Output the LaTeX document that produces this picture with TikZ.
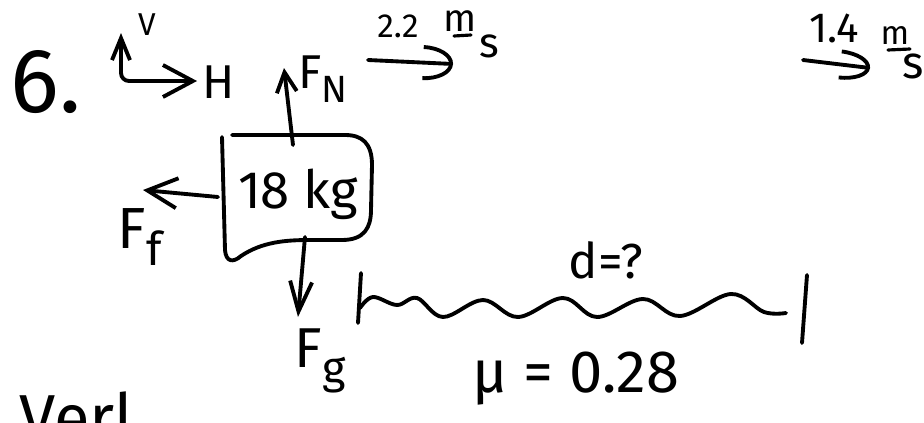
\documentclass[tikz,border=0pt]{standalone}
\usepackage{fontspec}
\setmainfont{Fira Sans}
\usetikzlibrary{arrows.meta}
\newcommand{\hand}[1]{\fontsize{#1}{#1}\selectfont}
\newcommand{\lowsub}[1]{\raisebox{-0.3em}{\scalebox{0.8}{#1}}}

\begin{document}
\begin{tikzpicture}[x=0.02cm,y=-0.02cm,line width=2.2pt,line cap=round,line join=round,
  lbl/.style={inner sep=0pt,anchor=base}]
\useasboundingbox (0,0) rectangle (924,423);
\clip (0,0) rectangle (924,423);
% ---------- 题号与方向 ----------
\node[lbl,font=\hand{52pt}] (qnum) at (46,112) {6.};
\coordinate (vtip) at (121,33);
\coordinate (htip) at (197,81);
\draw[rounded corners=1.6mm,{Straight Barb[length=4.4mm,width=3.6mm]}-{Straight Barb[length=6mm,width=6.4mm]}] (vtip) |- (htip);
\node[lbl,font=\hand{18pt}] (vlab) at (147,35) {V};
\node[lbl,font=\hand{27pt}] (hlab) at (219,98) {H};
% ---------- 木块 ----------
\draw (222,137) -- (225,250) .. controls (226,262) and (233,263) .. (241,256)
  .. controls (262,242) and (285,240) .. (310,240) -- (342,240)
  .. controls (364,240) and (371,228) .. (371,210) -- (372,165)
  .. controls (372,143) and (362,135) .. (345,135) -- (232,135);
\node[lbl,font=\hand{30pt}] (mass) at (298,208) {18 kg};
% 受力
\coordinate (nfoot) at (293,145);
\coordinate (ntip) at (284,68);
\draw[-{Straight Barb[length=4mm,width=4mm]}] (nfoot) -- (ntip);
\node[lbl,font=\hand{27pt}] (fnlab) at (323,88) {F\lowsub{N}};
\coordinate (ffoot) at (218,197);
\coordinate (ftip) at (143,190);
\draw[-{Straight Barb[length=6mm,width=6mm]}] (ffoot) -- (ftip);
\node[lbl,font=\hand{33pt}] (fflab) at (140,248) {F\lowsub{f}};
\coordinate (gfoot) at (305,237);
\coordinate (gtip) at (298,317);
\draw[-{Straight Barb[length=6mm,width=4.4mm]}] (gfoot) -- (gtip);
\node[lbl,font=\hand{32pt}] (fglab) at (320,367) {F\lowsub{g}};
% ---------- 速度 ----------
\coordinate (v1tail) at (368,60);
\coordinate (v1tip) at (453,64);
\draw[-{Arc Barb[length=6mm,width=7mm]}] (v1tail) -- (v1tip);
\node[lbl,font=\hand{19pt}] (v1val) at (398,37) {2.2};
\node[lbl,font=\hand{22pt}] (v1m) at (460,31) {m};
\draw[line width=1.8pt] (454,36) -- (471,35);
\node[lbl,font=\hand{24pt}] (v1s) at (489,57) {s};
\coordinate (v2tail) at (803,60);
\coordinate (v2tip) at (870,68);
\draw[-{Arc Barb[length=6mm,width=6mm]}] (v2tail) -- (v2tip);
\node[lbl,font=\hand{24pt}] (v2val) at (834,42) {1.4};
\node[lbl,font=\hand{19pt}] (v2m) at (895,44) {m};
\draw[line width=1.8pt] (888,50) -- (910,49);
\node[lbl,font=\hand{26pt}] (v2s) at (913,78) {s};
% ---------- 粗糙路面 ----------
\draw (361,273) -- (358,323);
\draw plot[smooth,tension=0.6] coordinates {(360,308) (373,297) (397,305) (417,298)
  (443,317) (483,300) (518,317) (563,298) (597,317) (643,299) (680,316) (731,294)
  (764,312) (786,313)};
\draw (807,275) -- (802,343);
\node[lbl,font=\hand{28pt}] (dist) at (606,278) {d=?};
\node[lbl,font=\hand{34pt}] (mu) at (576,392) {μ = 0.28};
\node[lbl,font=\hand{37pt}] (verl) at (77,440) {Verl};
\end{tikzpicture}
\end{document}
